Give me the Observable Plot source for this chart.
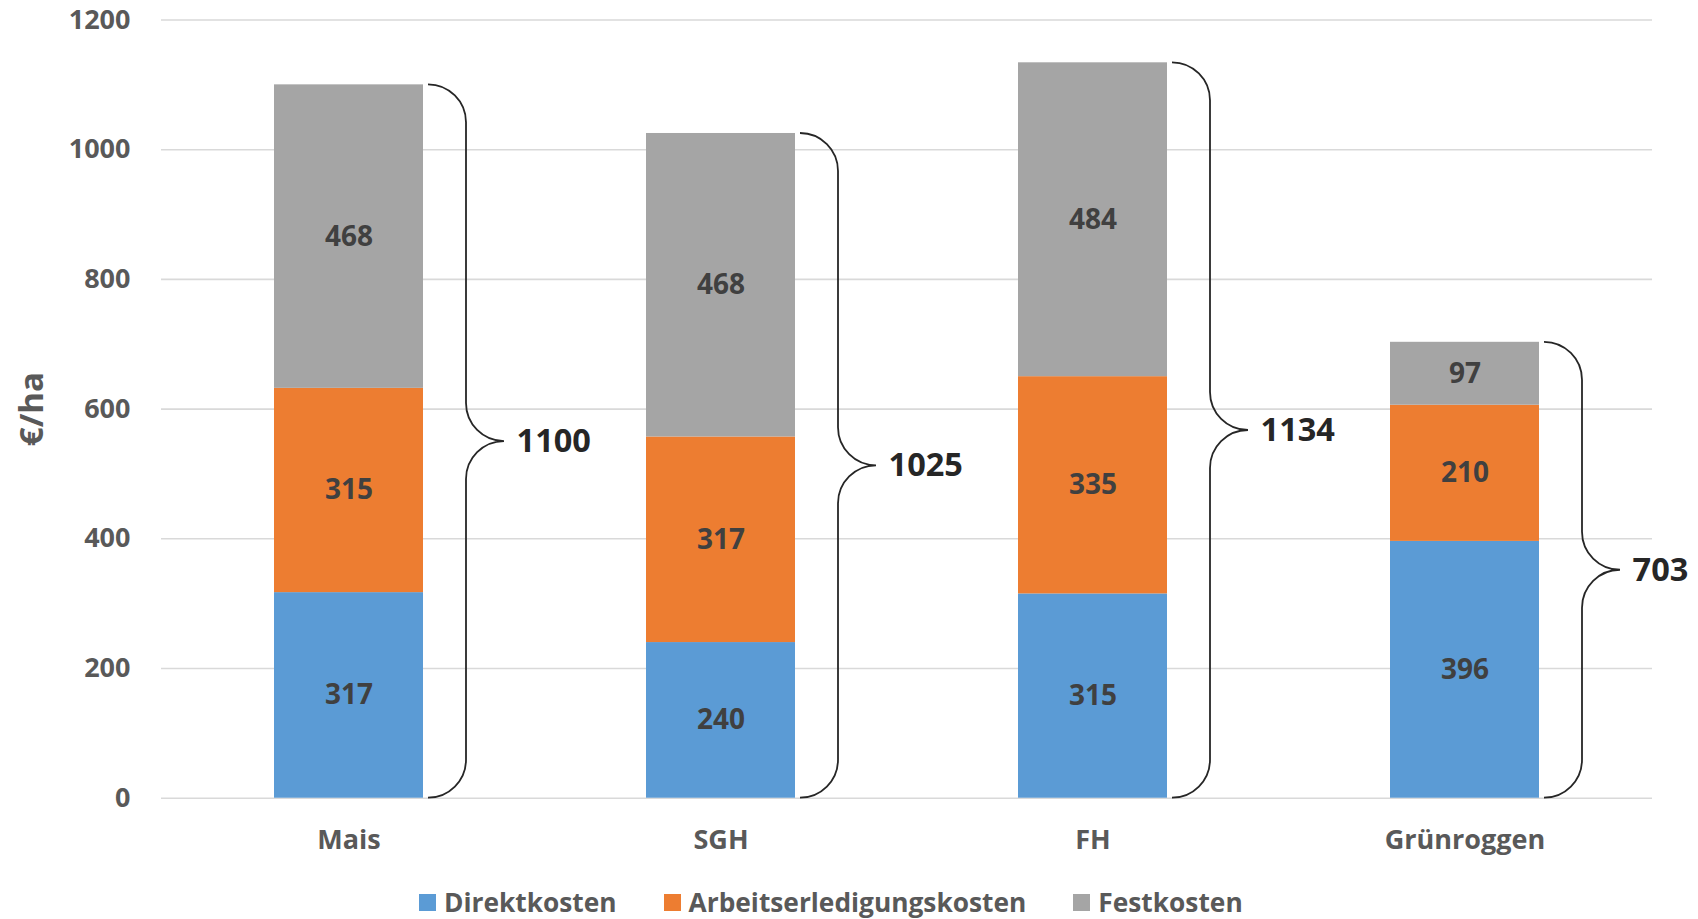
<!DOCTYPE html>
<html>
<head>
<meta charset="utf-8">
<script src="https://cdn.jsdelivr.net/npm/d3@7"></script>
<script src="https://cdn.jsdelivr.net/npm/@observablehq/plot@0.6"></script>
<style>
  html, body { margin: 0; padding: 0; background: #fff; overflow: hidden; }
  body { width: 1698px; height: 919px; position: relative; font-family: "Open Sans", sans-serif; }
  #chart svg { display: block; }
  #legend { position: absolute; left: 419px; top: 884px; display: flex; align-items: center; gap: 47px;
            font-family: "Open Sans", sans-serif; font-weight: 700; font-size: 26.3px; color: #595959; }
  .item { display: flex; align-items: center; gap: 8px; white-space: nowrap; }
  .sw { width: 17px; height: 17px; display: inline-block; }
</style>
</head>
<body>
<div id="chart"></div>
<div id="legend"></div>
<script>
const categories = ["Mais", "SGH", "FH", "Grünroggen"];
const seriesNames = ["Direktkosten", "Arbeitserledigungskosten", "Festkosten"];
const direktkosten = [317, 240, 315, 396];
const arbeitserledigungskosten = [315, 317, 335, 210];
const festkosten = [468, 468, 484, 97];
const totals = [1100, 1025, 1134, 703];
const yTicks = [0, 200, 400, 600, 800, 1000, 1200];
const colors = ["#5B9BD5", "#ED7D31", "#A5A5A5"];
const yTitle = "€/ha";

const seriesValues = [direktkosten, arbeitserledigungskosten, festkosten];
const rows = categories.flatMap((c, i) =>
  seriesNames.map((s, j) => ({category: c, series: s, value: seriesValues[j][i]})));
const totalRows = categories.map((c, i) => ({category: c, total: totals[i]}));

const BRACE_GAP = 5, R = 38;
function braces(index, scales) {
  const x = scales.x, y = scales.y;
  const bw = x.bandwidth();
  const g = d3.create("svg:g").attr("fill", "none").attr("stroke", "#262626").attr("stroke-width", 1.8);
  totalRows.forEach(d => {
    const x0 = x(d.category) + bw + BRACE_GAP;
    const yt = y(d.total), yb = y(0), ym = (yt + yb) / 2;
    const p = `M${x0},${yt} A${R},${R} 0 0 1 ${x0 + R},${yt + R} L${x0 + R},${ym - R} A${R},${R} 0 0 0 ${x0 + 2 * R},${ym} A${R},${R} 0 0 0 ${x0 + R},${ym + R} L${x0 + R},${yb - R} A${R},${R} 0 0 1 ${x0},${yb}`;
    g.append("path").attr("d", p);
  });
  return g.node();
}

const bandwidth = (1652 - 161) / 4 * 0.4;

const chart = Plot.plot({
  width: 1698,
  height: 870,
  marginLeft: 161,
  marginRight: 46,
  marginTop: 19.5,
  marginBottom: 72.3,
  style: {fontFamily: "Open Sans, sans-serif", color: "#595959", background: "#fff"},
  x: {domain: categories, paddingInner: 0.6, paddingOuter: 0.3, label: null},
  y: {domain: [0, 1200], label: null},
  color: {domain: seriesNames, range: colors},
  marks: [
    Plot.gridY(yTicks, {stroke: "#D9D9D9", strokeOpacity: 1, strokeWidth: 1.6}),
    Plot.barY(rows, {x: "category", y: "value", fill: "series", order: seriesNames}),
    Plot.text(rows, Plot.stackY({x: "category", y: "value", z: "series", order: seriesNames, text: d => String(d.value),
      fill: "#404040", fontSize: 28, fontWeight: 700})),
    braces,
    Plot.text(totalRows, {x: "category", y: d => d.total / 2, text: d => String(d.total),
      dx: bandwidth / 2 + BRACE_GAP + 2 * R + 12, textAnchor: "start", fill: "#262626", fontSize: 32.5, fontWeight: 700}),
    Plot.axisY(yTicks, {tickSize: 0, tickPadding: 31, fontSize: 27, fontWeight: 700, fill: "#595959", label: null, tickFormat: d => String(d)}),
    Plot.axisX({tickSize: 0, tickPadding: 32, fontSize: 27, fontWeight: 700, fill: "#595959", label: null}),
    Plot.text([yTitle], {frameAnchor: "left", text: d => d, rotate: -90, dx: -129, textAnchor: "middle", lineAnchor: "middle",
      fontSize: 33, fontWeight: 700, fill: "#595959"})
  ]
});
document.getElementById("chart").appendChild(chart);

const legend = d3.select("#legend");
seriesNames.forEach((s, i) => {
  const it = legend.append("div").attr("class", "item");
  it.append("span").attr("class", "sw").style("background", colors[i]);
  it.append("span").text(s);
});
</script>
</body>
</html>
